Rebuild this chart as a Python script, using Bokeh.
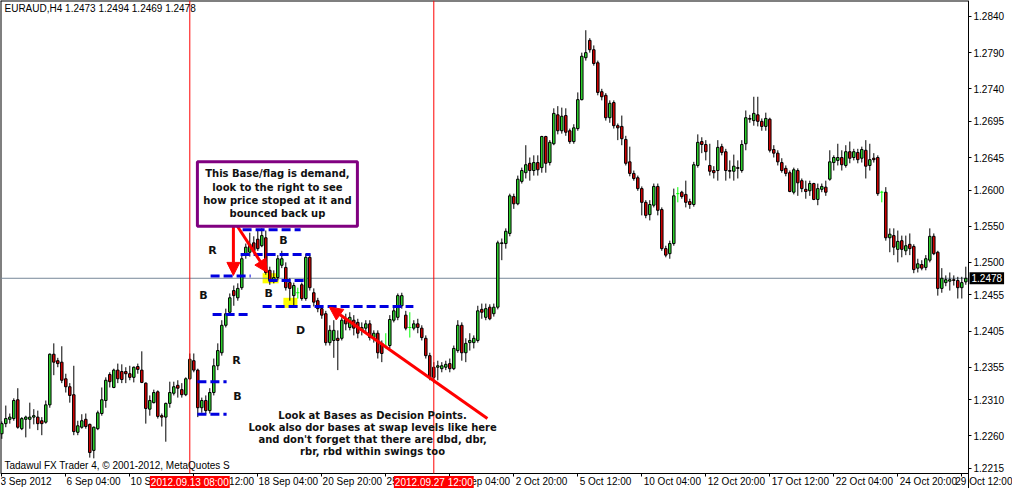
from bokeh.plotting import figure
from bokeh.models import (ColumnDataSource, Range1d, FixedTicker, PrintfTickFormatter,
                          Label, BoxAnnotation, Arrow, NormalHead)
from bokeh.embed import file_html
from bokeh.resources import INLINE

header = "EURAUD,H4  1.2473 1.2494 1.2469 1.2478"
footer = "Tadawul FX Trader 4, \u00a9 2001-2012, MetaQuotes S"

opens = [1.2263, 1.2277, 1.2283, 1.2284, 1.2310, 1.2270, 1.2283, 1.2283, 1.2286, 1.2286,
         1.2281, 1.2279, 1.2303, 1.2373, 1.2364, 1.2362, 1.2339, 1.2328, 1.2317, 1.2265,
         1.2272, 1.2283, 1.2276, 1.2240, 1.2270, 1.2291, 1.2309, 1.2345, 1.2327, 1.2351,
         1.2349, 1.2349, 1.2346, 1.2341, 1.2356, 1.2351, 1.2333, 1.2297, 1.2306, 1.2321,
         1.2288, 1.2286, 1.2305, 1.2319, 1.2330, 1.2324, 1.2317, 1.2339, 1.2364, 1.2351,
         1.2299, 1.2309, 1.2295, 1.2320, 1.2357, 1.2375, 1.2413, 1.2431, 1.2461, 1.2451,
         1.2465, 1.2510, 1.2514, 1.2527, 1.2532, 1.2523, 1.2534, 1.2489, 1.2475, 1.2479,
         1.2496, 1.2493, 1.2472, 1.2454, 1.2458, 1.2469, 1.2450, 1.2507, 1.2458, 1.2447,
         1.2436, 1.2429, 1.2389, 1.2392, 1.2395, 1.2395, 1.2422, 1.2410, 1.2420, 1.2417,
         1.2406, 1.2409, 1.2415, 1.2396, 1.2402, 1.2388, 1.2384, 1.2385, 1.2420, 1.2424,
         1.2440, 1.2427, 1.2410, 1.2409, 1.2415, 1.2409, 1.2395, 1.2371, 1.2355, 1.2355,
         1.2353, 1.2355, 1.2360, 1.2353, 1.2378, 1.2413, 1.2375, 1.2389, 1.2389, 1.2392,
         1.2435, 1.2424, 1.2438, 1.2429, 1.2438, 1.2526, 1.2526, 1.2540, 1.2591, 1.2581,
         1.2612, 1.2624, 1.2637, 1.2627, 1.2638, 1.2631, 1.2674, 1.2638, 1.2664, 1.2704,
         1.2682, 1.2703, 1.2682, 1.2667, 1.2685, 1.2725, 1.2783, 1.2807, 1.2794, 1.2776,
         1.2736, 1.2731, 1.2700, 1.2721, 1.2689, 1.2688, 1.2670, 1.2639, 1.2623, 1.2617,
         1.2602, 1.2583, 1.2566, 1.2579, 1.2605, 1.2573, 1.2519, 1.2512, 1.2526, 1.2595,
         1.2597, 1.2594, 1.2584, 1.2580, 1.2634, 1.2667, 1.2663, 1.2634, 1.2627, 1.2627,
         1.2660, 1.2653, 1.2627, 1.2626, 1.2631, 1.2627, 1.2664, 1.2699, 1.2696, 1.2704,
         1.2695, 1.2688, 1.2698, 1.2656, 1.2651, 1.2638, 1.2630, 1.2624, 1.2597, 1.2627,
         1.2613, 1.2601, 1.2599, 1.2609, 1.2587, 1.2601, 1.2604, 1.2615, 1.2638, 1.2641,
         1.2645, 1.2634, 1.2653, 1.2645, 1.2652, 1.2644, 1.2655, 1.2634, 1.2644, 1.2645,
         1.2597, 1.2597, 1.2534, 1.2537, 1.2518, 1.2530, 1.2516, 1.2525, 1.2522, 1.2492,
         1.2497, 1.2493, 1.2503, 1.2536, 1.2514, 1.2464, 1.2472, 1.2474, 1.2476, 1.2475,
         1.2465, 1.2473]
highs = [1.2280, 1.2302, 1.2291, 1.2312, 1.2326, 1.2286, 1.2288, 1.2306, 1.2297, 1.2295,
         1.2286, 1.2309, 1.2374, 1.2388, 1.2368, 1.2384, 1.2346, 1.2333, 1.2357, 1.2281,
         1.2290, 1.2291, 1.2277, 1.2273, 1.2295, 1.2327, 1.2341, 1.2348, 1.2353, 1.2360,
         1.2359, 1.2355, 1.2357, 1.2356, 1.2360, 1.2377, 1.2334, 1.2316, 1.2324, 1.2323,
         1.2291, 1.2306, 1.2335, 1.2335, 1.2337, 1.2333, 1.2341, 1.2374, 1.2374, 1.2353,
         1.2313, 1.2316, 1.2326, 1.2367, 1.2388, 1.2420, 1.2436, 1.2457, 1.2468, 1.2471,
         1.2510, 1.2526, 1.2541, 1.2536, 1.2544, 1.2547, 1.2544, 1.2494, 1.2489, 1.2510,
         1.2516, 1.2500, 1.2478, 1.2472, 1.2465, 1.2472, 1.2512, 1.2511, 1.2464, 1.2451,
         1.2440, 1.2433, 1.2413, 1.2420, 1.2406, 1.2424, 1.2429, 1.2431, 1.2427, 1.2422,
         1.2417, 1.2420, 1.2420, 1.2406, 1.2406, 1.2392, 1.2402, 1.2427, 1.2440, 1.2457,
         1.2458, 1.2433, 1.2431, 1.2420, 1.2422, 1.2413, 1.2399, 1.2375, 1.2362, 1.2364,
         1.2362, 1.2364, 1.2367, 1.2385, 1.2420, 1.2417, 1.2395, 1.2402, 1.2399, 1.2440,
         1.2443, 1.2443, 1.2442, 1.2443, 1.2530, 1.2533, 1.2547, 1.2595, 1.2595, 1.2620,
         1.2631, 1.2662, 1.2645, 1.2648, 1.2648, 1.2675, 1.2675, 1.2669, 1.2713, 1.2716,
         1.2714, 1.2713, 1.2685, 1.2691, 1.2735, 1.2790, 1.2821, 1.2810, 1.2800, 1.2779,
         1.2740, 1.2734, 1.2724, 1.2724, 1.2692, 1.2703, 1.2675, 1.2660, 1.2627, 1.2620,
         1.2605, 1.2586, 1.2586, 1.2609, 1.2609, 1.2576, 1.2523, 1.2530, 1.2602, 1.2604,
         1.2599, 1.2613, 1.2588, 1.2639, 1.2677, 1.2673, 1.2669, 1.2664, 1.2633, 1.2669,
         1.2664, 1.2657, 1.2641, 1.2649, 1.2641, 1.2669, 1.2710, 1.2704, 1.2729, 1.2729,
         1.2699, 1.2707, 1.2700, 1.2662, 1.2655, 1.2644, 1.2634, 1.2627, 1.2631, 1.2630,
         1.2616, 1.2613, 1.2613, 1.2610, 1.2609, 1.2609, 1.2613, 1.2655, 1.2648, 1.2664,
         1.2655, 1.2662, 1.2667, 1.2657, 1.2657, 1.2660, 1.2669, 1.2664, 1.2651, 1.2648,
         1.2599, 1.2604, 1.2547, 1.2547, 1.2544, 1.2537, 1.2537, 1.2540, 1.2525, 1.2505,
         1.2503, 1.2510, 1.2547, 1.2540, 1.2516, 1.2492, 1.2482, 1.2486, 1.2482, 1.2480,
         1.2480, 1.2494]
lows = [1.2256, 1.2272, 1.2277, 1.2281, 1.2270, 1.2268, 1.2258, 1.2270, 1.2276, 1.2268,
        1.2261, 1.2277, 1.2299, 1.2344, 1.2355, 1.2333, 1.2320, 1.2306, 1.2261, 1.2261,
        1.2270, 1.2270, 1.2230, 1.2229, 1.2268, 1.2288, 1.2299, 1.2327, 1.2326, 1.2333,
        1.2333, 1.2333, 1.2337, 1.2334, 1.2346, 1.2333, 1.2277, 1.2288, 1.2305, 1.2284,
        1.2273, 1.2252, 1.2299, 1.2316, 1.2313, 1.2313, 1.2315, 1.2338, 1.2348, 1.2286,
        1.2292, 1.2290, 1.2291, 1.2316, 1.2351, 1.2371, 1.2410, 1.2427, 1.2440, 1.2447,
        1.2462, 1.2505, 1.2508, 1.2514, 1.2516, 1.2521, 1.2483, 1.2469, 1.2471, 1.2475,
        1.2492, 1.2461, 1.2447, 1.2439, 1.2450, 1.2447, 1.2447, 1.2461, 1.2439, 1.2431,
        1.2422, 1.2385, 1.2385, 1.2368, 1.2351, 1.2392, 1.2406, 1.2406, 1.2399, 1.2395,
        1.2399, 1.2402, 1.2392, 1.2389, 1.2367, 1.2362, 1.2381, 1.2381, 1.2417, 1.2420,
        1.2436, 1.2406, 1.2396, 1.2406, 1.2402, 1.2392, 1.2367, 1.2337, 1.2333, 1.2337,
        1.2348, 1.2351, 1.2348, 1.2351, 1.2375, 1.2364, 1.2362, 1.2378, 1.2381, 1.2389,
        1.2422, 1.2420, 1.2420, 1.2425, 1.2435, 1.2503, 1.2519, 1.2536, 1.2574, 1.2579,
        1.2609, 1.2616, 1.2613, 1.2620, 1.2620, 1.2624, 1.2624, 1.2634, 1.2662, 1.2677,
        1.2678, 1.2675, 1.2664, 1.2664, 1.2682, 1.2724, 1.2779, 1.2790, 1.2772, 1.2731,
        1.2724, 1.2696, 1.2693, 1.2685, 1.2669, 1.2662, 1.2634, 1.2619, 1.2613, 1.2599,
        1.2565, 1.2561, 1.2558, 1.2576, 1.2565, 1.2516, 1.2507, 1.2505, 1.2523, 1.2583,
        1.2588, 1.2576, 1.2574, 1.2577, 1.2631, 1.2651, 1.2641, 1.2620, 1.2616, 1.2613,
        1.2648, 1.2613, 1.2616, 1.2613, 1.2616, 1.2624, 1.2655, 1.2693, 1.2689, 1.2688,
        1.2682, 1.2682, 1.2652, 1.2645, 1.2634, 1.2624, 1.2619, 1.2597, 1.2594, 1.2592,
        1.2597, 1.2588, 1.2592, 1.2586, 1.2579, 1.2597, 1.2592, 1.2613, 1.2627, 1.2634,
        1.2627, 1.2631, 1.2637, 1.2641, 1.2637, 1.2638, 1.2616, 1.2627, 1.2638, 1.2592,
        1.2583, 1.2530, 1.2514, 1.2510, 1.2500, 1.2507, 1.2510, 1.2510, 1.2485, 1.2486,
        1.2489, 1.2489, 1.2500, 1.2510, 1.2454, 1.2458, 1.2467, 1.2461, 1.2468, 1.2450,
        1.2450, 1.2469]
closes = [1.2277, 1.2284, 1.2286, 1.2309, 1.2272, 1.2284, 1.2286, 1.2286, 1.2288, 1.2277,
          1.2277, 1.2303, 1.2373, 1.2362, 1.2360, 1.2337, 1.2328, 1.2316, 1.2266, 1.2274,
          1.2281, 1.2273, 1.2237, 1.2272, 1.2292, 1.2310, 1.2337, 1.2335, 1.2351, 1.2339,
          1.2338, 1.2346, 1.2341, 1.2355, 1.2352, 1.2334, 1.2298, 1.2309, 1.2320, 1.2287,
          1.2286, 1.2305, 1.2320, 1.2328, 1.2326, 1.2317, 1.2339, 1.2366, 1.2351, 1.2299,
          1.2309, 1.2295, 1.2320, 1.2357, 1.2378, 1.2413, 1.2429, 1.2451, 1.2454, 1.2464,
          1.2505, 1.2521, 1.2525, 1.2516, 1.2519, 1.2537, 1.2486, 1.2475, 1.2479, 1.2505,
          1.2505, 1.2465, 1.2464, 1.2468, 1.2458, 1.2450, 1.2507, 1.2465, 1.2445, 1.2436,
          1.2427, 1.2389, 1.2406, 1.2406, 1.2392, 1.2420, 1.2415, 1.2424, 1.2409, 1.2402,
          1.2410, 1.2415, 1.2396, 1.2402, 1.2375, 1.2374, 1.2384, 1.2421, 1.2433, 1.2454,
          1.2454, 1.2409, 1.2410, 1.2415, 1.2410, 1.2396, 1.2371, 1.2341, 1.2341, 1.2357,
          1.2357, 1.2359, 1.2353, 1.2381, 1.2413, 1.2375, 1.2388, 1.2392, 1.2395, 1.2433,
          1.2431, 1.2436, 1.2422, 1.2438, 1.2527, 1.2527, 1.2543, 1.2592, 1.2581, 1.2615,
          1.2627, 1.2635, 1.2627, 1.2638, 1.2628, 1.2674, 1.2637, 1.2666, 1.2706, 1.2682,
          1.2702, 1.2680, 1.2667, 1.2686, 1.2725, 1.2785, 1.2790, 1.2794, 1.2775, 1.2735,
          1.2729, 1.2700, 1.2720, 1.2689, 1.2686, 1.2671, 1.2637, 1.2623, 1.2616, 1.2602,
          1.2583, 1.2565, 1.2580, 1.2605, 1.2572, 1.2519, 1.2510, 1.2526, 1.2592, 1.2595,
          1.2591, 1.2583, 1.2580, 1.2635, 1.2666, 1.2663, 1.2653, 1.2626, 1.2624, 1.2659,
          1.2652, 1.2627, 1.2626, 1.2633, 1.2630, 1.2663, 1.2700, 1.2698, 1.2706, 1.2695,
          1.2688, 1.2699, 1.2655, 1.2651, 1.2639, 1.2627, 1.2623, 1.2598, 1.2628, 1.2610,
          1.2602, 1.2598, 1.2609, 1.2587, 1.2602, 1.2605, 1.2597, 1.2639, 1.2645, 1.2645,
          1.2635, 1.2653, 1.2644, 1.2653, 1.2642, 1.2656, 1.2633, 1.2642, 1.2642, 1.2595,
          1.2597, 1.2534, 1.2539, 1.2521, 1.2529, 1.2518, 1.2523, 1.2519, 1.2490, 1.2498,
          1.2492, 1.2505, 1.2536, 1.2512, 1.2464, 1.2478, 1.2476, 1.2476, 1.2475, 1.2465,
          1.2472, 1.2478]

x_tick_bars = [0, 16, 32, 48, 64, 80, 96, 112, 128, 144, 160, 176, 192, 208, 224, 240]
x_tick_labels = ["3 Sep 2012", "6 Sep 04:00", "10 Sep 20:00", "13 Sep 12:00", "18 Sep 04:00",
                 "20 Sep 20:00", "25 Sep 12:00", "28 Sep 04:00", "2 Oct 20:00", "5 Oct 12:00",
                 "10 Oct 04:00", "12 Oct 20:00", "17 Oct 12:00", "22 Oct 04:00", "24 Oct 20:00",
                 "29 Oct 12:00"]
y_tick_values = [1.2840, 1.2790, 1.2740, 1.2695, 1.2645, 1.2600, 1.2550, 1.2500,
                 1.2455, 1.2405, 1.2355, 1.2310, 1.2260, 1.2215]
marked_bars = [47, 108]
marked_labels = ["2012.09.13 08:00", "2012.09.27 12:00"]
last_price = closes[-1]

GREEN = "#2ED82E"
RED = "#D40000"
DOJI = "#00FF00"
FONT = "Liberation Sans"
NOTE_FONT = "DejaVu Sans"

# view window: bars / prices covered by the whole 1012x488 canvas
X0, X1 = -0.325, 252.675
Y0, Y1 = 1.21873, 1.28621
AXIS_X = 241.675      # price scale sits just right of the last bar
AXIS_Y = 1.22081      # time scale sits below the lowest price shown

p = figure(width=1012, height=488, x_range=Range1d(X0, X1), y_range=Range1d(Y0, Y1),
           output_backend="svg", toolbar_location=None, y_axis_location="right",
           min_border=0, min_border_left=0, min_border_right=0, min_border_top=0,
           min_border_bottom=0, background_fill_color="white", border_fill_color="white")
p.outline_line_color = None
p.xgrid.visible = False
p.ygrid.visible = False

for ax in (p.xaxis[0], p.yaxis[0]):
    ax.axis_line_color = "black"
    ax.major_tick_line_color = "black"
    ax.major_tick_out = 3
    ax.major_tick_in = 0
    ax.minor_tick_line_color = None
    ax.major_label_text_font = FONT
    ax.major_label_text_font_size = "10px"
    ax.major_label_text_color = "black"
    ax.major_label_standoff = 2

p.yaxis.fixed_location = AXIS_X
p.xaxis.fixed_location = AXIS_Y
p.xaxis.bounds = (X0, AXIS_X)

# time labels start at their tick (MetaTrader style): pad on the left with no-break spaces
ARIAL_W = {" ": 0.278, ":": 0.278, ".": 0.278, "S": 0.667, "O": 0.778, "e": 0.556,
           "p": 0.556, "c": 0.5, "t": 0.278}


def text_em(s):
    return sum(ARIAL_W.get(ch, 0.556) for ch in s)


def left_start(s):
    return "\u00a0" * (int(round(text_em(s) / 0.278)) + 1) + s


p.xaxis.ticker = FixedTicker(ticks=x_tick_bars)
p.xaxis.major_label_overrides = {b: (t if b == x_tick_bars[0] else left_start(t))
                                 for b, t in zip(x_tick_bars, x_tick_labels)}
p.xaxis.major_label_standoff = 0
p.yaxis.ticker = FixedTicker(ticks=y_tick_values)
p.yaxis.formatter = PrintfTickFormatter(format="%.4f")


def seg(x0, y0, x1, y1, color, width=1, dash="solid", level="annotation"):
    p.add_layout(Arrow(start=None, end=None, x_start=x0, y_start=y0, x_end=x1, y_end=y1,
                       line_color=color, line_width=width, line_dash=dash, level=level))


# chart frame (left / top edges)
seg(X0, Y1, AXIS_X, Y1, "black", 2, level="underlay")
seg(X0, Y1, X0, AXIS_Y, "black", 2, level="underlay")

# highlighted zones
for l, r, b, t in [(65.2, 69.2, 1.2471, 1.2485), (70.4, 73.9, 1.2437, 1.2451)]:
    p.add_layout(BoxAnnotation(left=l, right=r, bottom=b, top=t, fill_color="#FFFF00",
                               fill_alpha=1, line_color=None, level="underlay"))

# bid line and crosshair marker lines
seg(X0, last_price, AXIS_X, last_price, "#778899", 1, level="underlay")
for mb in marked_bars:
    seg(mb, Y1, mb, AXIS_Y, "#FF0000", 1)

n = len(closes)
idx_up = [i for i in range(n) if closes[i] > opens[i]]
idx_dn = [i for i in range(n) if closes[i] < opens[i]]
idx_dj = [i for i in range(n) if closes[i] == opens[i]]


def make_src(idx):
    return ColumnDataSource(dict(
        x=idx,
        xl=[i - 0.4 for i in idx], xr=[i + 0.4 for i in idx],
        o=[opens[i] for i in idx], h=[highs[i] for i in idx],
        l=[lows[i] for i in idx], c=[closes[i] for i in idx],
        top=[max(opens[i], closes[i]) for i in idx],
        bottom=[min(opens[i], closes[i]) for i in idx]))


for idx, fill in [(idx_up, GREEN), (idx_dn, RED)]:
    s = make_src(idx)
    p.segment(x0="x", y0="l", x1="x", y1="h", source=s, line_color="black", line_width=1)
    p.vbar(x="x", width=0.62, top="top", bottom="bottom", source=s,
           fill_color=fill, line_color="black", line_width=1)
sd = make_src(idx_dj)
p.segment(x0="x", y0="l", x1="x", y1="h", source=sd, line_color=DOJI, line_width=1)
p.segment(x0="xl", y0="o", x1="xr", y1="o", source=sd, line_color=DOJI, line_width=1)

# blue dashed base lines
for x0, x1, y in [(48.9, 56.2, 1.2335), (48.9, 56.2, 1.2290), (52.7, 62.2, 1.2428),
                  (52.2, 62.2, 1.2481), (59.7, 77.2, 1.2511), (60.2, 74.7, 1.2545),
                  (65.2, 102.9, 1.2439), (66.7, 75.9, 1.2475)]:
    seg(x0, y, x1, y, "#0000E0", 3, "9 4")

# red arrows
for xs, ys, xe, ye in [(57.9, 1.2552, 57.9, 1.2482), (58.9, 1.2550, 66.4, 1.2486),
                       (121.4, 1.2284, 81.9, 1.2438)]:
    p.add_layout(Arrow(end=NormalHead(size=13, fill_color="#FF0000", line_color="#FF0000"),
                       x_start=xs, y_start=ys, x_end=xe, y_end=ye,
                       line_color="#FF0000", line_width=3))

# purple note box
p.add_layout(BoxAnnotation(left=48.9, right=88.9, bottom=1.2550, top=1.2639,
                           fill_color="white", fill_alpha=1, line_color="#800080",
                           line_alpha=1, line_width=3, level="overlay"))
for txt, y in [("This Base/flag is demand,", 1.2623), ("look to the right to see", 1.2603),
               ("how price stoped at it and", 1.2586), ("bounced back up", 1.2568)]:
    p.add_layout(Label(x=68.9, y=y, text=txt, text_align="center", text_baseline="middle",
                       text_font=NOTE_FONT, text_font_style="bold", text_font_size="10px",
                       text_color="#111111", level="overlay"))

for txt, y in [("Look at Bases as Decision Points.", 1.2288),
               ("Look also dor bases at swap levels like here", 1.2272),
               ("and don't forget that there are dbd, dbr,", 1.2255),
               ("rbr, rbd within swings too", 1.2239)]:
    p.add_layout(Label(x=92.7, y=y, text=txt, text_align="center", text_baseline="middle",
                       text_font=NOTE_FONT, text_font_style="bold", text_font_size="10px",
                       text_color="#111111"))

for txt, x, y in [("R", 52.7, 1.2516), ("B", 50.4, 1.2454), ("B", 70.4, 1.2530),
                  ("B", 66.7, 1.2457), ("D", 74.7, 1.2406), ("R", 58.7, 1.2364),
                  ("B", 58.9, 1.2314)]:
    p.add_layout(Label(x=x, y=y, text=txt, text_align="center", text_baseline="middle",
                       text_font=NOTE_FONT, text_font_style="bold", text_font_size="11px",
                       text_color="#111111"))

p.add_layout(Label(x=X0, x_offset=4, y=1.2851, text=header, text_align="left",
                   text_baseline="middle", text_font=FONT, text_font_size="10px",
                   text_color="black"))
p.add_layout(Label(x=X0, x_offset=4, y=1.2219, text=footer, text_align="left",
                   text_baseline="middle", text_font=FONT, text_font_size="10px",
                   text_color="black"))

# crosshair time labels on the time scale, current price label on the price scale
for mb, txt in zip(marked_bars, marked_labels):
    p.add_layout(Label(x=mb, y=1.21956, text=txt, text_align="center",
                       text_baseline="middle", text_font=FONT, text_font_size="10px",
                       text_color="white", background_fill_color="#FF0000", padding=1,
                       level="overlay"))
p.add_layout(Label(x=AXIS_X, x_offset=1, y=last_price, text="%.4f" % last_price,
                   text_align="left", text_baseline="middle", text_font=FONT,
                   text_font_size="10px", text_color="white",
                   background_fill_color="black", padding=2, level="overlay"))

open("out.html", "w").write(file_html(p, INLINE))
